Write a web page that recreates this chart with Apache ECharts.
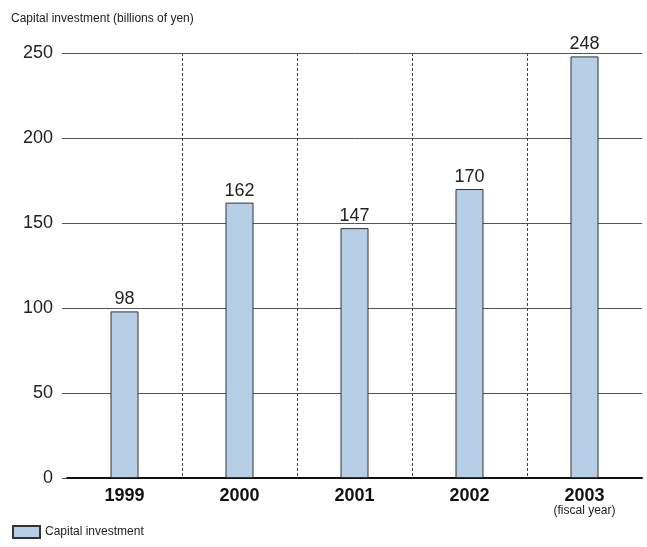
<!DOCTYPE html>
<html>
<head>
<meta charset="utf-8">
<script src="https://cdn.jsdelivr.net/npm/echarts@6/dist/echarts.min.js"></script>
<style>
  html, body { margin: 0; padding: 0; background: #fff; }
  #chart { width: 647px; height: 547px; }
</style>
</head>
<body>
<div id="chart"></div>
<script>
// data
var years = ['1999', '2000', '2001', '2002', '2003'];
var investment = [98, 162, 147, 170, 248];
var yTicks = [0, 50, 100, 150, 200, 250];

var chart = echarts.init(document.getElementById('chart'));
var font = 'Liberation Sans, Arial, Helvetica, sans-serif';

chart.setOption({
    animation: false,
    textStyle: { fontFamily: font },
    title: {
        text: 'Capital investment (billions of yen)',
        left: 6,
        top: 8,
        textStyle: { fontSize: 12, fontWeight: 'normal', color: '#222', fontFamily: font }
    },
    legend: {
        left: 7,
        bottom: 3,
        icon: 'rect',
        itemWidth: 27,
        itemHeight: 12,
        itemGap: 6,
        data: ['Capital investment'],
        textStyle: { fontSize: 12, color: '#222', fontFamily: font }
    },
    grid: {
        left: 67,
        right: 5,
        top: 53,
        bottom: 69
    },
    xAxis: {
        type: 'category',
        data: years,
        axisLine: { show: true, lineStyle: { color: '#111', width: 2 } },
        axisTick: { show: false },
        axisLabel: {
            interval: 0,
            margin: 9,
            fontSize: 18,
            fontWeight: 'bold',
            color: '#111',
            formatter: function (v) {
                return v === '2003' ? v + '\n{s|(fiscal year)}' : v;
            },
            rich: {
                s: { fontSize: 12, fontWeight: 'normal', color: '#222', lineHeight: 12 }
            }
        },
        splitLine: {
            show: true,
            interval: 0,
            showMinLine: false,
            showMaxLine: false,
            lineStyle: { color: '#444', type: [3, 2], width: 1 }
        }
    },
    yAxis: {
        type: 'value',
        min: yTicks[0],
        max: yTicks[yTicks.length - 1],
        interval: 50,
        axisLine: { show: false },
        axisTick: { show: true, length: 5, lineStyle: { color: '#555' } },
        axisLabel: { margin: 14, fontSize: 18, color: '#222' },
        splitLine: { show: true, lineStyle: { color: '#555', width: 1 } }
    },
    series: [{
        name: 'Capital investment',
        type: 'bar',
        data: investment,
        barWidth: 28,
        itemStyle: { color: '#b6cfe6', borderColor: '#333', borderWidth: 1 },
        label: {
            show: true,
            position: 'top',
            distance: 3,
            fontSize: 18,
            color: '#222'
        }
    }]
});
</script>
</body>
</html>
